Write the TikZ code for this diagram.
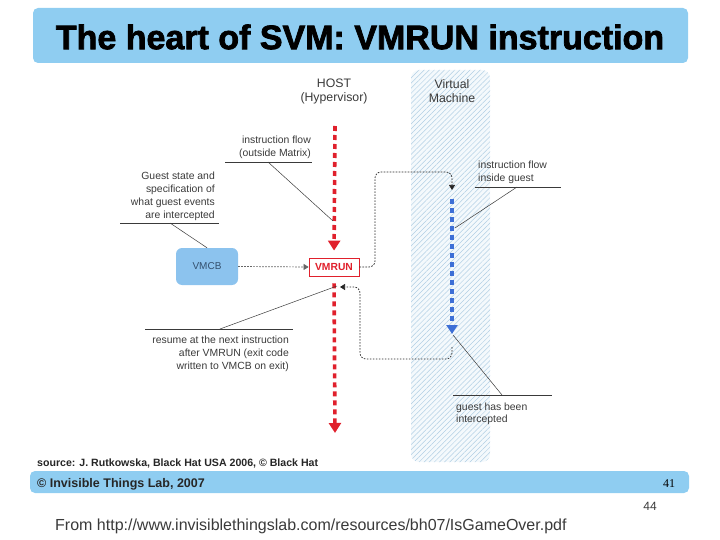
\documentclass[tikz,border=0pt]{standalone}
\usepackage{fontspec}
\setmainfont{Liberation Sans}
\newfontfamily\titlefont[FakeBold=2.2]{Liberation Sans Bold}
\newfontfamily\serifnum{Liberation Serif}
\usetikzlibrary{arrows.meta,patterns.meta}
\definecolor{barblue}{HTML}{8FCDF1}
\definecolor{vmcbblue}{HTML}{8CC3EE}
\definecolor{hostred}{HTML}{E0202C}
\definecolor{guestblue}{HTML}{3D6FD6}
\definecolor{notegray}{HTML}{3A3A3A}
\definecolor{hatchblue}{HTML}{B2CFE4}
\definecolor{vmbg}{HTML}{F4F9FC}
\definecolor{vmcbtext}{HTML}{34506E}
\tikzset{
  note/.style={font=\fontsize{10.4}{13}\selectfont, text=notegray, inner sep=0pt},
  uline/.style={draw=notegray, line width=0.8pt},
  pointer/.style={draw=notegray, line width=0.5pt},
  reddash/.style={draw=hostred, line width=3.6pt, dash pattern=on 5pt off 4pt,
     -{Triangle[length=10pt,width=12pt]}},
  bluedash/.style={draw=guestblue, line width=3.2pt, dash pattern=on 5pt off 4pt,
     -{Triangle[length=9pt,width=11pt]}},
  dotline/.style={draw=black!85, line width=0.7pt, dash pattern=on 1.6pt off 1.4pt,
     rounded corners=6pt, -{Triangle[length=5pt,width=6pt]}},
  graydot/.style={draw=black!60, line width=0.7pt, dash pattern=on 1.6pt off 1.4pt,
     -{Triangle[length=5pt,width=6pt]}},
  vmrunbox/.style={draw=hostred, line width=0.8pt, fill=white, text=hostred,
     font=\fontsize{10.3}{10.3}\selectfont\bfseries, minimum width=50pt, minimum height=18pt, inner sep=0pt},
  vmcbbox/.style={fill=vmcbblue, rounded corners=6pt, text=vmcbtext,
     font=\fontsize{10}{10}\selectfont, minimum width=62pt, minimum height=37pt, inner sep=0pt},
  bar/.style={fill=barblue, draw=none, rounded corners=5pt}
}
\begin{document}
\begin{tikzpicture}[x=1pt,y=-1pt]
\useasboundingbox (0,0) rectangle (720,540);
% title bar
\path[bar] (33,8) rectangle (688,63);
\node[font=\titlefont\fontsize{34}{34}\selectfont, inner sep=0pt] (title) at (360,37) {The heart of SVM: VMRUN instruction};
% virtual machine column
\path[fill=vmbg, rounded corners=8pt] (411,70) rectangle (490,462);
\path[pattern={Lines[angle=45,distance=3.6pt,line width=0.5pt]}, pattern color=hatchblue, rounded corners=8pt] (411,70) rectangle (490,462);
% headers
\node[font=\fontsize{12.3}{14}\selectfont, text=notegray, align=center, inner sep=0pt] (host) at (334,91) {HOST\\(Hypervisor)};
\node[font=\fontsize{12.3}{14}\selectfont, text=notegray, align=center, inner sep=0pt] (vm) at (452,91) {Virtual\\Machine};
% boxes
\node[vmrunbox] (vmrun) at (334,267) {VMRUN};
\node[vmcbbox] (vmcb) at (207,266.5) {VMCB};
% coordinates
\coordinate (hostTop) at (335,126);
\coordinate (hostBottom) at (335,433);
\coordinate (guestTop) at (452,199);
\coordinate (guestEnd) at (452,334);
\coordinate (guestEntry) at (452,190);
\coordinate (guestExit) at (452,347);
\coordinate (hostResume) at (340,287);
% flows
\draw[reddash, shorten >=7pt] (hostTop) -- (vmrun.north);
\draw[reddash, shorten <=7pt] (vmrun.south) -- (hostBottom);
\draw[bluedash] (guestTop) -- (guestEnd);
\draw[dotline] (vmrun.east) -- (375,267) -- (375,172) -- (452,172) -- (guestEntry);
\draw[dotline] (guestExit) -- (452,359) -- (360,359) -- (360,287) -- (hostResume);
\draw[graydot] (vmcb.east) -- (vmrun.west);
% annotations
\node[note, anchor=north east, align=right] (n1) at (311,135.5) {instruction flow\\(outside Matrix)};
\draw[uline] (225,162) -- (312,162);
\draw[pointer] (268,162) -- (333,221);
\node[note, anchor=north east, align=right] (n2) at (215,171.5) {Guest state and\\specification of\\what guest events\\are intercepted};
\draw[uline] (120,223) -- (219,223);
\draw[pointer] (170,223) -- (vmcb.north);
\node[note, anchor=north west, align=left] (n3) at (478,160.5) {instruction flow\\inside guest};
\draw[uline] (475,187) -- (561,187);
\draw[pointer] (517,187) -- (455,228);
\node[note, anchor=north east, align=right] (n4) at (289,335.5) {resume at the next instruction\\after VMRUN (exit code\\written to VMCB on exit)};
\draw[uline] (145,329) -- (293,329);
\draw[pointer] (220,329) -- (337,286);
\node[note, anchor=north west, align=left, font=\fontsize{10.4}{12}\selectfont] (n5) at (456,402.5) {guest has been\\intercepted};
\draw[uline] (453,395) -- (552,395);
\draw[pointer] (453,335) -- (502,395);
% footer
\node[font=\fontsize{10.6}{10.6}\selectfont\bfseries, text=black!85, anchor=base west, inner sep=0pt] (src) at (37,466) {source: J. Rutkowska, Black Hat USA 2006, © Black Hat};
\path[bar] (30,471) rectangle (689,493);
\node[font=\fontsize{12.5}{12.5}\selectfont\bfseries, text=black!85, anchor=base west, inner sep=0pt] (itl) at (37,487) {© Invisible Things Lab, 2007};
\node[font=\serifnum\fontsize{12}{12}\selectfont, anchor=base, inner sep=0pt] (p41) at (669,487) {41};
\node[font=\fontsize{12}{12}\selectfont, text=notegray, anchor=base, inner sep=0pt] (p44) at (650,510) {44};
\node[font=\fontsize{16}{16}\selectfont, text=notegray, anchor=base west, inner sep=0pt] (from) at (55,530) {From http://www.invisiblethingslab.com/resources/bh07/IsGameOver.pdf};
\end{tikzpicture}
\end{document}
